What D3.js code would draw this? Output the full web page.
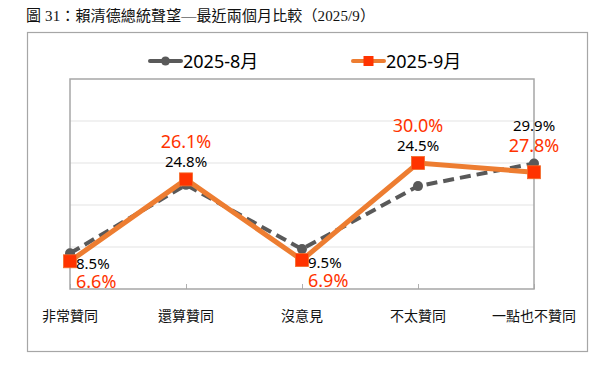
<!DOCTYPE html>
<html lang="zh-Hant">

<head>
  <meta charset="UTF-8">
  <title>賴清德總統聲望</title>
  <script src="https://d3js.org/d3.v7.min.js"></script>
  <style>
    body { margin: 0; background: #fff; }
    text { font-family: "Noto Sans", "Noto Sans CJK TC", sans-serif; }
    .title { font-family: "Liberation Serif", "Noto Sans CJK TC", serif; }
  </style>
</head>

<body>
  <div id="chart"></div>
  <script>

    // data
    const categories = ["非常贊同", "還算贊同", "沒意見", "不太贊同", "一點也不贊同"];
    const seriesNames = ["2025-8月", "2025-9月"];
    const aug = [8.5, 24.8, 9.5, 24.5, 29.9];
    const sep = [6.6, 26.1, 6.9, 30.0, 27.8];
    const yTicks = [0, 10, 20, 30, 40, 50];
    const labelSide = ["below", "above", "below", "above", "above"];
    const titleText = "圖 31：賴清德總統聲望—最近兩個月比較（2025/9）";

    const W = 613, H = 375;
    const plot = { left: 70, right: 534, top: 79, bottom: 289 };

    const svg = d3.select("#chart")
      .append("svg")
      .attr("width", W)
      .attr("height", H);

    // title
    svg.append("text")
      .attr("class", "title")
      .attr("x", 26)
      .attr("y", 21)
      .attr("font-size", 15)
      .attr("textLength", 349)
      .attr("lengthAdjust", "spacing")
      .attr("fill", "#111")
      .text(titleText);

    // outer frame
    svg.append("rect")
      .attr("x", 27.5).attr("y", 32.5)
      .attr("width", 560).attr("height", 319)
      .attr("fill", "none")
      .attr("stroke", "#a6a6a6")
      .attr("stroke-width", 1.2);

    const x = d3.scalePoint()
      .domain(categories)
      .range([plot.left, plot.right])
      .padding(0);

    const y = d3.scaleLinear()
      .domain([0, 50])
      .range([plot.bottom, plot.top]);

    // gridlines
    svg.append("g")
      .selectAll("line")
      .data(yTicks.slice(1, -1))
      .join("line")
      .attr("x1", plot.left).attr("x2", plot.right)
      .attr("y1", d => y(d)).attr("y2", d => y(d))
      .attr("stroke", "#e3e3e3")
      .attr("stroke-width", 1);

    // bottom axis with inner ticks
    svg.append("g")
      .attr("transform", `translate(0,${plot.bottom})`)
      .call(d3.axisBottom(x).tickSize(-5).tickFormat(""))
      .call(g => g.select(".domain").remove())
      .call(g => g.selectAll(".tick line").attr("stroke", "#b0b0b0"));

    // plot border
    svg.append("rect")
      .attr("x", plot.left).attr("y", plot.top)
      .attr("width", plot.right - plot.left)
      .attr("height", plot.bottom - plot.top)
      .attr("fill", "none")
      .attr("stroke", "#a6a6a6")
      .attr("stroke-width", 1.5);

    // category labels
    svg.append("g")
      .selectAll("text")
      .data(categories)
      .join("text")
      .attr("x", d => x(d))
      .attr("y", 315)
      .attr("text-anchor", "middle")
      .attr("dominant-baseline", "central")
      .attr("font-size", 14)
      .attr("fill", "#111")
      .text(d => d);

    const line = d3.line()
      .x((d, i) => x(categories[i]))
      .y(d => y(d));

    // August: dashed gray
    svg.append("path")
      .datum(aug)
      .attr("fill", "none")
      .attr("stroke", "#595959")
      .attr("stroke-width", 4)
      .attr("stroke-dasharray", "11,6")
      .attr("d", line);

    svg.append("g")
      .selectAll("circle")
      .data(aug)
      .join("circle")
      .attr("cx", (d, i) => x(categories[i]))
      .attr("cy", d => y(d))
      .attr("r", 5)
      .attr("fill", "#595959");

    // September: orange
    svg.append("path")
      .datum(sep)
      .attr("fill", "none")
      .attr("stroke", "#ED7D31")
      .attr("stroke-width", 5)
      .attr("d", line);

    svg.append("g")
      .selectAll("rect")
      .data(sep)
      .join("rect")
      .attr("x", (d, i) => x(categories[i]) - 6.5)
      .attr("y", d => y(d) - 6.5)
      .attr("width", 13)
      .attr("height", 13)
      .attr("fill", "#FF3300")
      .attr("stroke", "#F26B2A")
      .attr("stroke-width", 0.8);

    // value labels, the higher value of the two sits first
    const fmt = d => d.toFixed(1) + "%";
    categories.forEach((c, i) => {
      const pair = [
        { v: aug[i], color: "#000", size: 15 },
        { v: sep[i], color: "#FF3300", size: 18 }
      ].sort((a, b) => b.v - a.v);
      const cx = x(c);
      if (labelSide[i] === "above") {
        const top = y(pair[0].v);
        pair.forEach((p, k) => {
          svg.append("text")
            .attr("x", cx)
            .attr("y", top - 38 + k * 20)
            .attr("text-anchor", "middle")
            .attr("dominant-baseline", "central")
            .attr("font-size", p.size)
            .attr("fill", p.color)
            .text(fmt(p.v));
        });
      } else {
        const low = y(pair[1].v);
        pair.forEach((p, k) => {
          svg.append("text")
            .attr("x", cx + 6)
            .attr("y", low + 1.5 + k * 18)
            .attr("text-anchor", "start")
            .attr("dominant-baseline", "central")
            .attr("font-size", p.size)
            .attr("fill", p.color)
            .text(fmt(p.v));
        });
      }
    });

    // legend
    const legend = svg.append("g");
    const legendItems = [
      { name: seriesNames[0], x: 150, color: "#595959", marker: "circle" },
      { name: seriesNames[1], x: 353, color: "#ED7D31", marker: "square" }
    ];
    legendItems.forEach(it => {
      legend.append("line")
        .attr("x1", it.x).attr("x2", it.x + 31)
        .attr("y1", 61).attr("y2", 61)
        .attr("stroke", it.color)
        .attr("stroke-width", 4)
        .attr("stroke-linecap", "round");
      if (it.marker === "circle") {
        legend.append("circle")
          .attr("cx", it.x + 15.5).attr("cy", 61).attr("r", 4.5)
          .attr("fill", "#595959");
      } else {
        legend.append("rect")
          .attr("x", it.x + 10.5).attr("y", 56)
          .attr("width", 10).attr("height", 10)
          .attr("fill", "#FF3300");
      }
      legend.append("text")
        .attr("x", it.x + 33)
        .attr("y", 61)
        .attr("dominant-baseline", "central")
        .attr("font-size", 18)
        .attr("fill", "#000")
        .text(it.name);
    });

  </script>
</body>

</html>
